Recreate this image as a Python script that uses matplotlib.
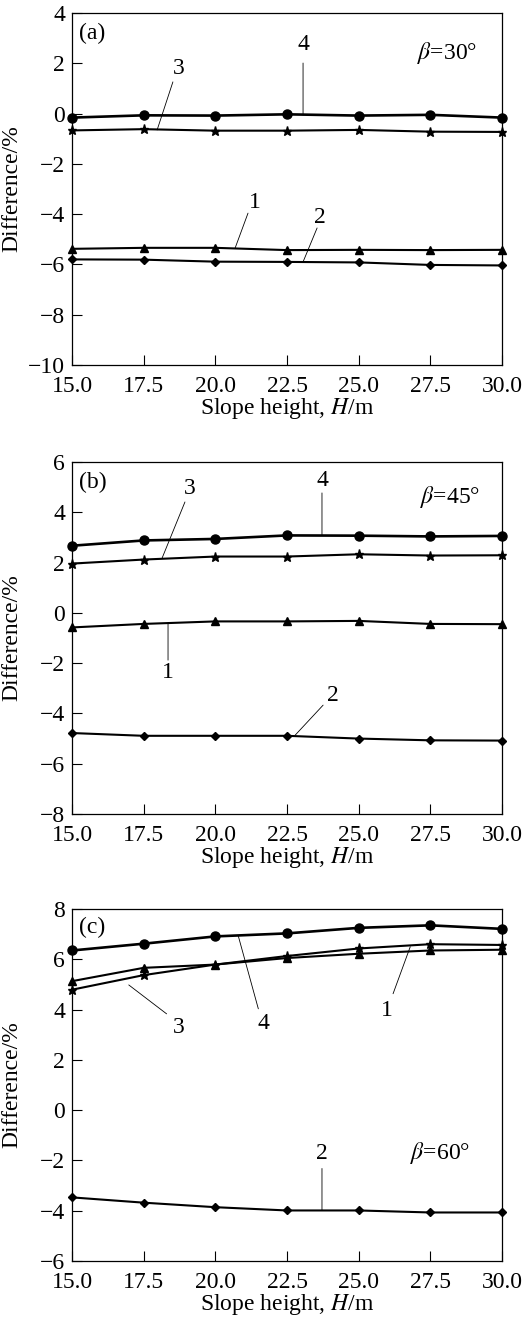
import matplotlib
matplotlib.use("Agg")
import matplotlib.pyplot as plt

plt.rcParams['font.family'] = ['Liberation Serif', 'DejaVu Serif']
plt.rcParams['mathtext.fontset'] = 'stix'
plt.rcParams['font.size'] = 17

heights = [15.0, 17.5, 20.0, 22.5, 25.0, 27.5, 30.0]

# beta = 30 deg
a_s1 = [-5.38, -5.34, -5.34, -5.43, -5.42, -5.43, -5.42]
a_s2 = [-5.80, -5.81, -5.89, -5.90, -5.92, -6.02, -6.04]
a_s3 = [-0.67, -0.62, -0.68, -0.68, -0.65, -0.72, -0.73]
a_s4 = [-0.16, -0.07, -0.08, -0.03, -0.08, -0.05, -0.16]

# beta = 45 deg
b_s1 = [-0.58, -0.44, -0.34, -0.34, -0.32, -0.44, -0.45]
b_s2 = [-4.78, -4.89, -4.89, -4.89, -5.00, -5.07, -5.08]
b_s3 = [1.96, 2.12, 2.24, 2.24, 2.33, 2.28, 2.29]
b_s4 = [2.67, 2.88, 2.94, 3.08, 3.07, 3.04, 3.06]

# beta = 60 deg
c_s1 = [5.13, 5.66, 5.79, 6.05, 6.22, 6.35, 6.38]
c_s2 = [-3.47, -3.68, -3.86, -3.99, -3.99, -4.07, -4.07]
c_s3 = [4.79, 5.37, 5.79, 6.13, 6.43, 6.60, 6.57]
c_s4 = [6.35, 6.62, 6.91, 7.03, 7.25, 7.35, 7.21]

xticks = [15.0, 17.5, 20.0, 22.5, 25.0, 27.5, 30.0]

panels = [
    dict(tag="(a)", beta=30, ylim=(-10, 4), yticks=range(-10, 5, 2),
         series=[a_s1, a_s2, a_s3, a_s4], tag_y=3.2, beta_xy=(28.1, 2.4),
         notes=[("4", (23.06, 2.73), (23.06, 2.01), (23.06, -0.06)),
                ("3", (18.73, 1.81), (18.52, 1.26), (17.97, -0.65)),
                ("1", (21.38, -3.52), (21.14, -3.96), (20.69, -5.35)),
                ("2", (23.65, -4.15), (23.55, -4.55), (23.06, -5.90))]),
    dict(tag="(b)", beta=45, ylim=(-8, 6), yticks=range(-8, 7, 2),
         series=[b_s1, b_s2, b_s3, b_s4], tag_y=5.2, beta_xy=(28.2, 4.6),
         notes=[("4", (23.72, 5.28), (23.72, 4.77), (23.72, 3.08)),
                ("3", (19.12, 4.96), (18.94, 4.41), (18.14, 2.17)),
                ("1", (18.35, -2.39), (18.35, -1.88), (18.35, -0.41)),
                ("2", (24.1, -3.27), (23.76, -3.67), (22.78, -4.87))]),
    dict(tag="(c)", beta=60, ylim=(-6, 8), yticks=range(-6, 9, 2),
         series=[c_s1, c_s2, c_s3, c_s4], tag_y=7.25, beta_xy=(27.85, -1.72),
         notes=[("3", (18.72, 3.28), (18.3, 3.83), (16.98, 4.98)),
                ("4", (21.68, 3.44), (21.5, 4.03), (20.8, 6.93)),
                ("1", (26.0, 3.95), (26.2, 4.63), (26.8, 6.50)),
                ("2", (23.72, -1.72), (23.72, -2.32), (23.72, -3.99))]),
]

styles = [
    dict(marker="^", markersize=6, lw=1.5),
    dict(marker="D", markersize=3.8, lw=1.5),
    dict(marker="*", markersize=6.5, lw=1.5),
    dict(marker="o", markersize=6.5, lw=1.9),
]

fig = plt.figure(figsize=(5.31, 13.22), dpi=100)
left, width, height = 72 / 531, 430 / 531, 352 / 1322
bottoms = [1 - 365 / 1322, 1 - 814 / 1322, 1 - 1261 / 1322]

for p, b in zip(panels, bottoms):
    ax = fig.add_axes([left, b, width, height])
    for ys, st in zip(p["series"], styles):
        ax.plot(heights, ys, color="black", marker=st["marker"],
                markersize=st["markersize"], lw=st["lw"], clip_on=False, zorder=3)
    ax.set_xlim(15, 30)
    ax.set_ylim(*p["ylim"])
    ax.set_xticks(xticks)
    ax.set_xticklabels([f"{t:.1f}" for t in xticks])
    ax.set_yticks(list(p["yticks"]))
    ax.tick_params(direction="in", length=7, width=0.8, top=False, right=False)
    ax.tick_params(axis="y", pad=5)
    ax.tick_params(axis="x", pad=8)
    for sp in ax.spines.values():
        sp.set_linewidth(0.9)
    ax.set_xlabel(r"Slope height, $H$/m", labelpad=-1)
    ax.set_ylabel("Difference/%")
    ax.yaxis.set_label_coords(-0.115, 0.5)
    ax.text(15.25, p["tag_y"], p["tag"], ha="left", va="center")
    ax.text(p["beta_xy"][0], p["beta_xy"][1], r"$\beta$=%d°" % p["beta"],
            ha="center", va="center")
    for lab, txt_xy, start, end in p["notes"]:
        ax.text(txt_xy[0], txt_xy[1], lab, ha="center", va="center")
        ax.annotate("", xy=end, xytext=start,
                    arrowprops=dict(arrowstyle="-", lw=0.6, color="black",
                                    shrinkA=0, shrinkB=0))

fig.savefig("out.png", dpi=100)
